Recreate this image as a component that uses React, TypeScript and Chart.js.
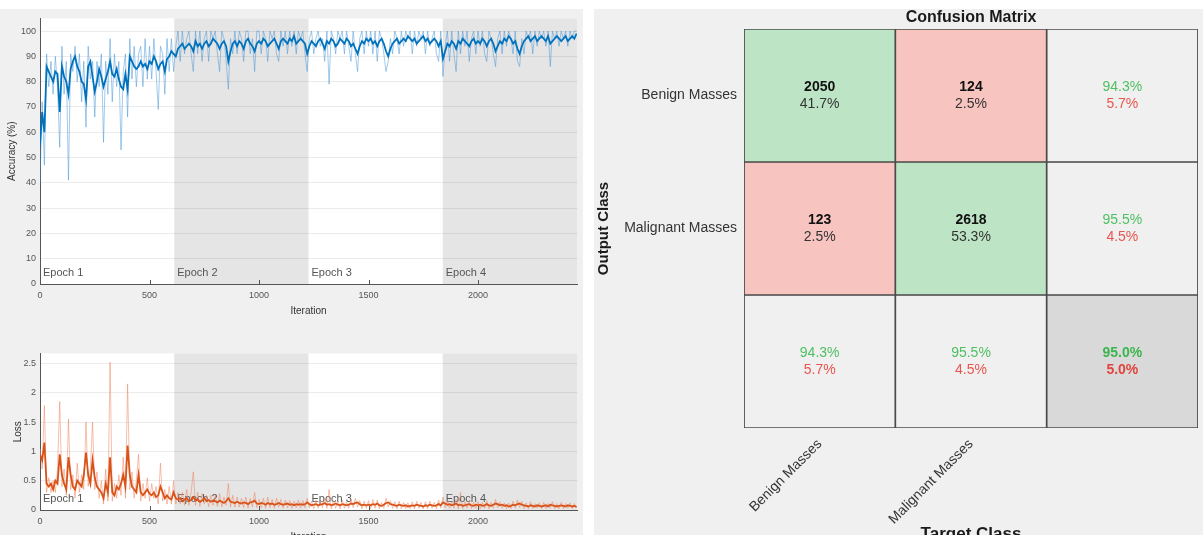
import React, { useEffect, useRef } from "react";
import { Chart, registerables } from "chart.js";

Chart.register(...registerables);

const FONT = '"Liberation Sans", Arial, Helvetica, sans-serif';

// ---------- training progress data ----------
const ITER_STEP = 10;
const ITER_MAX = 2452;
const epochStarts = [0, 613, 1226, 1839];
const epochNames = ["Epoch 1", "Epoch 2", "Epoch 3", "Epoch 4"];
const iterTicks = [0, 500, 1000, 1500, 2000];
const accTicks = [0, 10, 20, 30, 40, 50, 60, 70, 80, 90, 100];
const lossTicks = [0, 0.5, 1, 1.5, 2, 2.5];

const accSmooth = [
  55, 68, 60, 86, 84, 82, 80, 84, 83, 68,
  86, 82, 80, 75, 85, 88, 90, 86, 84, 80,
  79, 73, 86, 88, 82, 76, 80, 85, 82, 78,
  81, 84, 88, 83, 82, 85, 81, 78, 77, 83,
  77, 90, 88, 86, 85, 86, 88, 86, 87, 85,
  88, 87, 90, 88, 85, 87, 88, 84, 89, 90,
  92, 91, 90, 93, 94, 95, 93, 94, 95, 94,
  92, 96, 94, 95, 93, 95, 96, 94, 95, 97,
  96, 95, 93, 95, 96, 94, 88, 92, 95, 96,
  94, 96, 95, 93, 96, 97, 95, 94, 92, 95,
  96, 95, 97, 96, 94, 95, 96, 97, 95, 93,
  96, 97, 96, 95, 97, 96, 98, 95, 96, 97,
  96, 95, 91, 94, 96, 95, 94, 96, 97, 95,
  93, 96, 95, 97, 96, 94, 95, 97, 96, 95,
  97, 96, 94, 95, 93, 91, 94, 96, 95, 97,
  96, 97, 95, 96, 94, 96, 97, 95, 92, 90,
  93, 95, 96, 97, 95, 96, 97, 96, 98, 97,
  96, 97, 95, 96, 97, 98, 96, 97, 95, 96,
  97, 96, 94, 96, 89, 92, 95, 94, 96, 95,
  93, 96, 95, 97, 96, 95, 94, 96, 97, 95,
  96, 95, 97, 96, 94, 96, 97, 95, 92, 94,
  96, 95, 97, 96, 98, 97, 95, 96, 93, 91,
  94, 96, 97, 98, 96, 97, 98, 96, 97, 98,
  97, 96, 98, 95, 96, 97, 98, 97, 96, 97,
  98, 96, 97, 98, 97, 99,
];

const accRaw = [
  40, 72, 47, 91, 78, 88, 75, 90, 78, 54,
  94, 75, 88, 41, 91, 84, 94, 80, 91, 72,
  88, 62, 94, 81, 88, 66, 88, 78, 91, 56,
  88, 75, 97, 72, 91, 78, 88, 53, 84, 91,
  66, 97, 81, 94, 78, 91, 94, 78, 97, 81,
  94, 81, 97, 84, 69, 94, 91, 75, 97, 84,
  97, 84, 94, 100, 88, 100, 91, 97, 100, 91,
  84, 100, 91, 100, 88, 97, 100, 88, 100, 97,
  100, 91, 84, 100, 97, 88, 77, 97, 91, 100,
  91, 100, 97, 88, 100, 100, 91, 97, 84, 100,
  100, 91, 100, 97, 88, 100, 97, 100, 91, 88,
  100, 94, 100, 91, 100, 94, 100, 91, 100, 97,
  100, 91, 84, 97, 100, 91, 97, 100, 94, 97,
  88, 100, 79, 100, 97, 91, 100, 97, 100, 91,
  100, 94, 88, 100, 91, 84, 97, 100, 91, 100,
  94, 100, 91, 100, 88, 100, 97, 91, 84, 88,
  97, 91, 100, 97, 91, 100, 94, 100, 97, 100,
  91, 100, 94, 100, 97, 100, 91, 100, 94, 97,
  100, 91, 88, 100, 82, 94, 100, 88, 100, 91,
  84, 100, 91, 100, 94, 100, 88, 97, 100, 91,
  100, 94, 100, 91, 88, 100, 97, 91, 86, 97,
  100, 91, 100, 94, 100, 97, 91, 100, 88, 86,
  97, 91, 100, 97, 100, 91, 100, 94, 100, 97,
  100, 94, 100, 86, 100, 97, 100, 94, 100, 97,
  100, 94, 100, 97, 100, 100,
];

const lossSmooth = [
  0.95, 0.85, 1.15, 0.45, 0.4, 0.45, 0.35, 0.5, 0.45, 0.95,
  0.6, 0.45, 0.35, 0.9, 0.6, 0.4, 0.35, 0.5, 0.45, 0.4,
  0.6, 0.98, 0.6, 0.45, 0.85, 0.55, 0.4, 0.35, 0.3, 0.2,
  0.45, 0.3, 0.9, 0.3, 0.25, 0.4, 0.35, 0.45, 0.6, 0.4,
  1.1, 0.6, 0.4, 0.35, 0.3, 0.6, 0.3, 0.25, 0.3, 0.35,
  0.28, 0.25, 0.3, 0.22, 0.25, 0.4, 0.3, 0.2, 0.25, 0.2,
  0.18, 0.3, 0.2, 0.18, 0.2, 0.15, 0.18, 0.2, 0.15, 0.17,
  0.22, 0.16, 0.18, 0.14, 0.16, 0.2, 0.15, 0.17, 0.14, 0.16,
  0.15, 0.13, 0.16, 0.14, 0.12, 0.15, 0.2, 0.14, 0.13, 0.12,
  0.14, 0.12, 0.11, 0.13, 0.12, 0.1, 0.13, 0.14, 0.16, 0.11,
  0.1, 0.12, 0.11, 0.09, 0.12, 0.1, 0.11, 0.09, 0.1, 0.12,
  0.1, 0.09, 0.1, 0.11, 0.09, 0.1, 0.08, 0.1, 0.09, 0.1,
  0.09, 0.1, 0.13, 0.1, 0.08, 0.09, 0.1, 0.08, 0.09, 0.1,
  0.12, 0.09, 0.1, 0.08, 0.09, 0.11, 0.09, 0.08, 0.1, 0.09,
  0.08, 0.09, 0.11, 0.1, 0.12, 0.13, 0.1, 0.08, 0.09, 0.08,
  0.09, 0.08, 0.1, 0.09, 0.11, 0.08, 0.07, 0.09, 0.12, 0.13,
  0.1, 0.09, 0.08, 0.07, 0.09, 0.08, 0.07, 0.08, 0.06, 0.07,
  0.08, 0.07, 0.09, 0.08, 0.07, 0.06, 0.08, 0.07, 0.09, 0.08,
  0.07, 0.08, 0.1, 0.08, 0.13, 0.11, 0.09, 0.1, 0.08, 0.09,
  0.11, 0.08, 0.09, 0.07, 0.08, 0.09, 0.1, 0.08, 0.07, 0.09,
  0.08, 0.09, 0.07, 0.08, 0.1, 0.08, 0.07, 0.09, 0.11, 0.1,
  0.08, 0.09, 0.07, 0.08, 0.06, 0.07, 0.09, 0.08, 0.1, 0.11,
  0.09, 0.08, 0.07, 0.06, 0.08, 0.07, 0.06, 0.08, 0.07, 0.06,
  0.07, 0.08, 0.06, 0.09, 0.08, 0.07, 0.06, 0.07, 0.08, 0.07,
  0.06, 0.08, 0.07, 0.06, 0.07, 0.05,
];

const lossRaw = [
  1.05, 0.7, 1.78, 0.3, 0.55, 0.3, 0.5, 0.3, 0.7, 1.85,
  0.4, 0.7, 0.25, 1.55, 0.35, 0.6, 0.2, 0.8, 0.3, 0.6,
  0.35, 1.5, 0.4, 0.7, 1.5, 0.35, 0.65, 0.2, 0.5, 0.1,
  0.7, 0.15, 2.52, 0.15, 0.45, 0.2, 0.6, 0.25, 0.9, 0.2,
  2.15, 0.35, 0.65, 0.2, 0.5, 0.95, 0.15, 0.45, 0.2, 0.55,
  0.15, 0.45, 0.2, 0.4, 0.1, 0.8, 0.15, 0.35, 0.1, 0.4,
  0.1, 0.5, 0.1, 0.3, 0.1, 0.3, 0.08, 0.35, 0.08, 0.3,
  0.65, 0.08, 0.3, 0.06, 0.28, 0.1, 0.25, 0.06, 0.25, 0.08,
  0.25, 0.06, 0.28, 0.05, 0.22, 0.08, 0.45, 0.05, 0.25, 0.05,
  0.22, 0.05, 0.2, 0.04, 0.22, 0.03, 0.2, 0.05, 0.3, 0.04,
  0.18, 0.04, 0.2, 0.03, 0.22, 0.04, 0.18, 0.03, 0.2, 0.05,
  0.18, 0.03, 0.17, 0.04, 0.16, 0.03, 0.15, 0.04, 0.17, 0.03,
  0.16, 0.04, 0.2, 0.03, 0.15, 0.02, 0.17, 0.03, 0.15, 0.04,
  0.2, 0.03, 0.35, 0.02, 0.16, 0.03, 0.15, 0.02, 0.17, 0.03,
  0.14, 0.03, 0.18, 0.04, 0.2, 0.05, 0.16, 0.02, 0.15, 0.03,
  0.16, 0.02, 0.18, 0.03, 0.17, 0.02, 0.13, 0.03, 0.2, 0.05,
  0.16, 0.03, 0.14, 0.02, 0.15, 0.02, 0.13, 0.02, 0.12, 0.02,
  0.14, 0.02, 0.15, 0.03, 0.13, 0.02, 0.14, 0.02, 0.15, 0.03,
  0.13, 0.02, 0.17, 0.03, 0.22, 0.04, 0.15, 0.03, 0.14, 0.03,
  0.18, 0.02, 0.3, 0.02, 0.14, 0.03, 0.16, 0.02, 0.13, 0.03,
  0.14, 0.02, 0.13, 0.03, 0.16, 0.02, 0.13, 0.03, 0.18, 0.04,
  0.14, 0.03, 0.12, 0.02, 0.12, 0.02, 0.15, 0.03, 0.17, 0.04,
  0.15, 0.02, 0.12, 0.02, 0.14, 0.02, 0.11, 0.03, 0.12, 0.02,
  0.13, 0.02, 0.11, 0.03, 0.14, 0.02, 0.11, 0.02, 0.13, 0.02,
  0.11, 0.03, 0.12, 0.02, 0.11, 0.04,
];

// ---------- confusion matrix data ----------
const classLabels = ["Benign Masses", "Malignant Masses"];
const counts = [
  [2050, 124],
  [123, 2618],
];
const cellPercents = [
  ["41.7%", "2.5%"],
  ["2.5%", "53.3%"],
];
const rowCorrect = ["94.3%", "95.5%"];
const rowWrong = ["5.7%", "4.5%"];
const colCorrect = ["94.3%", "95.5%"];
const colWrong = ["5.7%", "4.5%"];
const overall = ["95.0%", "5.0%"];

const GREEN_CELL = "#bde5c5";
const RED_CELL = "#f8c4c0";
const GRAY_CELL = "#f0f0f0";
const CORNER_CELL = "#d9d9d9";
const GREEN_TEXT = "#4fbf62";
const RED_TEXT = "#e8554f";

const toPoints = (arr: number[]) => arr.map((v, i) => ({ x: i * ITER_STEP, y: v }));

const trainingPlugin = {
  id: "trainingBands",
  beforeDraw(chart: any) {
    const { ctx, chartArea: a, scales } = chart;
    const x = scales.x;
    ctx.save();
    ctx.fillStyle = "#ffffff";
    ctx.fillRect(a.left, a.top, a.right - a.left, a.bottom - a.top);
    ctx.fillStyle = "#e5e5e5";
    epochStarts.forEach((s, i) => {
      if (i % 2 === 1) {
        const end = i + 1 < epochStarts.length ? epochStarts[i + 1] : ITER_MAX;
        const x0 = x.getPixelForValue(s);
        const x1 = x.getPixelForValue(end);
        ctx.fillRect(x0, a.top, x1 - x0, a.bottom - a.top);
      }
    });
    ctx.restore();
  },
  beforeDatasetsDraw(chart: any) {
    const { ctx, chartArea: a, scales } = chart;
    const x = scales.x;
    ctx.save();
    ctx.font = `11px ${FONT}`;
    ctx.fillStyle = "#555555";
    ctx.textAlign = "left";
    ctx.textBaseline = "bottom";
    epochStarts.forEach((s, i) => {
      ctx.fillText(epochNames[i], x.getPixelForValue(s) + 3, a.bottom - 6);
    });
    // inside tick marks on the x axis
    ctx.strokeStyle = "#555555";
    ctx.lineWidth = 1;
    iterTicks.forEach((t) => {
      const px = Math.round(x.getPixelForValue(t)) + 0.5;
      ctx.beginPath();
      ctx.moveTo(px, a.bottom);
      ctx.lineTo(px, a.bottom - 4);
      ctx.stroke();
    });
    ctx.restore();
  },
};

function trainingConfig(
  raw: number[],
  smooth: number[],
  rawColor: string,
  darkColor: string,
  yMax: number,
  yTicks: number[],
  yTitle: string,
  yTitlePad: number
): any {
  return {
    type: "line",
    data: {
      datasets: [
        { data: toPoints(smooth), borderColor: darkColor, borderWidth: 1.8, pointRadius: 0, tension: 0 },
        { data: toPoints(raw), borderColor: rawColor, borderWidth: 1, pointRadius: 0, tension: 0 },
      ],
    },
    options: {
      animation: false,
      responsive: false,
      maintainAspectRatio: false,
      layout: { padding: { top: 6, right: 5, left: 0, bottom: 0 } },
      plugins: { legend: { display: false }, tooltip: { enabled: false } },
      scales: {
        x: {
          type: "linear",
          min: 0,
          max: ITER_MAX,
          afterBuildTicks: (s: any) => {
            s.ticks = iterTicks.map((v) => ({ value: v }));
          },
          afterFit: (s: any) => {
            s.height = 37;
          },
          grid: { display: false, drawTicks: false },
          border: { color: "#555555", width: 1 },
          ticks: {
            font: { size: 9, family: FONT },
            color: "#555555",
            padding: 6,
            maxRotation: 0,
            callback: (v: any) => String(v),
          },
          title: {
            display: true,
            text: "Iteration",
            font: { size: 10, family: FONT },
            color: "#333333",
            padding: { top: 0, bottom: 4 },
          },
        },
        y: {
          type: "linear",
          min: 0,
          max: yMax,
          afterBuildTicks: (s: any) => {
            s.ticks = yTicks.map((v) => ({ value: v }));
          },
          afterFit: (s: any) => {
            s.width = 40;
          },
          grid: { color: "rgba(0,0,0,0.08)", drawTicks: false },
          border: { color: "#555555", width: 1 },
          ticks: {
            font: { size: 9, family: FONT },
            color: "#555555",
            padding: 4,
            callback: (v: any) => String(v),
          },
          title: {
            display: true,
            text: yTitle,
            font: { size: 10, family: FONT },
            color: "#333333",
            padding: { top: yTitlePad, bottom: 0 },
          },
        },
      },
    },
    plugins: [trainingPlugin],
  };
}

const matrixRows = [0, 1, 2];
const matrixCols = [...classLabels, ""];

function cellColor(r: number, c: number) {
  if (r < 2 && c < 2) return r === c ? GREEN_CELL : RED_CELL;
  if (r === 2 && c === 2) return CORNER_CELL;
  return GRAY_CELL;
}

const matrixTextPlugin = {
  id: "matrixText",
  afterDatasetsDraw(chart: any) {
    const { ctx, chartArea: a, scales } = chart;
    const x = scales.x;
    const y = scales.y;
    ctx.save();
    ctx.textAlign = "center";
    ctx.textBaseline = "middle";
    matrixRows.forEach((r) => {
      matrixCols.forEach((_, c) => {
        const cx = x.getPixelForValue(c);
        const cy = y.getPixelForValue(r + 0.5);
        let l1 = "";
        let l2 = "";
        let c1 = "#111111";
        let c2 = "#333333";
        let bold2 = false;
        if (r < 2 && c < 2) {
          l1 = String(counts[r][c]);
          l2 = cellPercents[r][c];
        } else if (r < 2) {
          l1 = rowCorrect[r];
          l2 = rowWrong[r];
          c1 = GREEN_TEXT;
          c2 = RED_TEXT;
        } else if (c < 2) {
          l1 = colCorrect[c];
          l2 = colWrong[c];
          c1 = GREEN_TEXT;
          c2 = RED_TEXT;
        } else {
          l1 = overall[0];
          l2 = overall[1];
          c1 = "#3cb54e";
          c2 = "#e0443c";
          bold2 = true;
        }
        const bold1 = (r < 2 && c < 2) || (r === 2 && c === 2);
        ctx.font = `${bold1 ? "bold " : ""}14px ${FONT}`;
        ctx.fillStyle = c1;
        ctx.fillText(l1, cx, cy - 8);
        ctx.font = `${bold2 ? "bold " : ""}14px ${FONT}`;
        ctx.fillStyle = c2;
        ctx.fillText(l2, cx, cy + 9);
      });
    });
    ctx.font = `bold 16px ${FONT}`;
    ctx.fillStyle = "#1a1a1a";
    ctx.fillText("Confusion Matrix", (a.left + a.right) / 2, a.top - 11);
    ctx.restore();
  },
};

const matrixConfig: any = {
  type: "bar",
  data: {
    labels: matrixCols,
    datasets: matrixRows.map((r) => ({
      data: matrixCols.map(() => [r, r + 1]),
      backgroundColor: matrixCols.map((_, c) => cellColor(r, c)),
      borderColor: "#4a4a4a",
      borderWidth: 1.2,
      borderSkipped: false,
      barPercentage: 1,
      categoryPercentage: 1,
      grouped: false,
    })),
  },
  options: {
    animation: false,
    responsive: false,
    maintainAspectRatio: false,
    layout: { padding: { top: 20, right: 5, left: 0, bottom: 0 } },
    plugins: { legend: { display: false }, tooltip: { enabled: false } },
    scales: {
      x: {
        type: "category",
        afterFit: (s: any) => {
          s.height = 120;
        },
        grid: { display: false, drawTicks: false },
        border: { display: false },
        ticks: {
          font: { size: 14, family: FONT },
          color: "#333333",
          minRotation: 45,
          maxRotation: 45,
          autoSkip: false,
          padding: 8,
        },
        title: {
          display: true,
          text: "Target Class",
          font: { size: 17, weight: "bold", family: FONT },
          color: "#1a1a1a",
          padding: { top: 0, bottom: 3 },
        },
      },
      y: {
        type: "linear",
        min: 0,
        max: 3,
        reverse: true,
        afterBuildTicks: (s: any) => {
          s.ticks = classLabels.map((_, i) => ({ value: i + 0.5 }));
        },
        afterFit: (s: any) => {
          s.width = 150;
        },
        grid: { display: false, drawTicks: false },
        border: { display: false },
        ticks: {
          font: { size: 14, family: FONT },
          color: "#333333",
          padding: 7,
          callback: (_v: any, i: number) => classLabels[i],
        },
        title: {
          display: true,
          text: "Output Class",
          font: { size: 15, weight: "bold", family: FONT },
          color: "#1a1a1a",
          padding: { top: 1, bottom: 0 },
        },
      },
    },
  },
  plugins: [matrixTextPlugin],
};

export default function App() {
  const accRef = useRef<HTMLCanvasElement>(null);
  const lossRef = useRef<HTMLCanvasElement>(null);
  const cmRef = useRef<HTMLCanvasElement>(null);

  useEffect(() => {
    const acc = new Chart(
      accRef.current as HTMLCanvasElement,
      trainingConfig(accRaw, accSmooth, "rgba(70,150,215,0.5)", "#0072bd", 105, accTicks, "Accuracy (%)", 6)
    );
    const loss = new Chart(
      lossRef.current as HTMLCanvasElement,
      trainingConfig(lossRaw, lossSmooth, "rgba(240,130,90,0.5)", "#d95319", 2.67, lossTicks, "Loss", 12)
    );
    const cm = new Chart(cmRef.current as HTMLCanvasElement, matrixConfig);
    return () => {
      acc.destroy();
      loss.destroy();
      cm.destroy();
    };
  }, []);

  return (
    <div
      style={{
        position: "fixed",
        left: 0,
        top: 0,
        width: 1203,
        height: 535,
        overflow: "hidden",
        background: "#ffffff",
      }}
    >
      <div style={{ position: "absolute", left: 0, top: 9, width: 583, height: 526, background: "#f0f0f0" }} />
      <div style={{ position: "absolute", left: 594, top: 9, width: 609, height: 526, background: "#f0f0f0" }} />
      <canvas
        ref={accRef}
        width={582}
        height={312}
        style={{ position: "absolute", left: 0, top: 9, width: 582, height: 312 }}
      />
      <canvas
        ref={lossRef}
        width={582}
        height={203}
        style={{ position: "absolute", left: 0, top: 344, width: 582, height: 203 }}
      />
      <canvas
        ref={cmRef}
        width={609}
        height={539}
        style={{ position: "absolute", left: 594, top: 9, width: 609, height: 539 }}
      />
    </div>
  );
}
